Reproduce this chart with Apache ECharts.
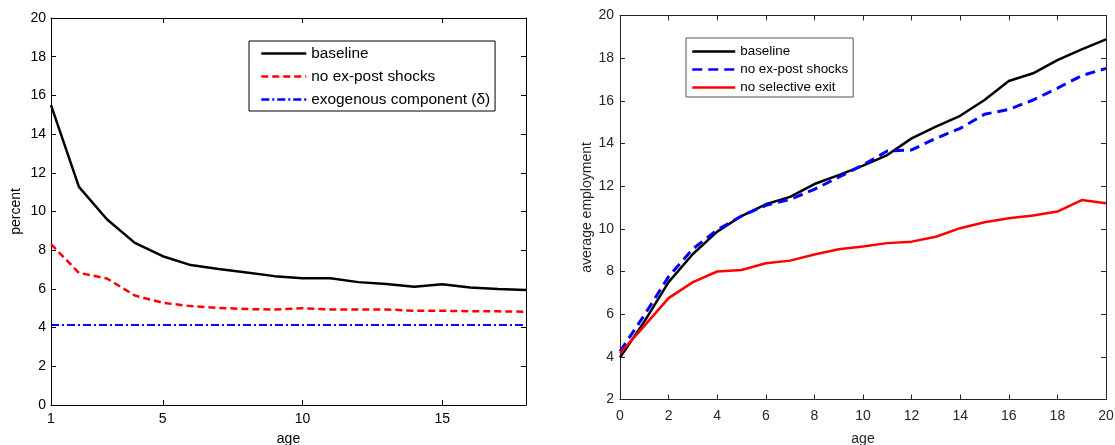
<!DOCTYPE html>
<html>
<head>
<meta charset="utf-8">
<script src="https://cdn.jsdelivr.net/npm/echarts@6/dist/echarts.min.js"></script>
<style>
html,body{margin:0;padding:0;background:#fff;}
#c{width:1115px;height:445px;}
</style>
</head>
<body>
<div id="c"></div>
<script>
// ---- Left panel data (exit rate, percent) ----
const agesLeft = [1,2,3,4,5,6,7,8,9,10,11,12,13,14,15,16,17,18];
const leftBaseline = [15.5, 11.27, 9.6, 8.38, 7.69, 7.23, 7.03, 6.85, 6.66, 6.55, 6.55, 6.35, 6.25, 6.11, 6.24, 6.07, 6.0, 5.94];
const leftNoShocks = [8.31, 6.83, 6.54, 5.66, 5.28, 5.11, 5.02, 4.96, 4.93, 5.0, 4.94, 4.94, 4.94, 4.87, 4.87, 4.85, 4.84, 4.82];
const leftExogenous = [4.14, 4.14, 4.14, 4.14, 4.14, 4.14, 4.14, 4.14, 4.14, 4.14, 4.14, 4.14, 4.14, 4.14, 4.14, 4.14, 4.14, 4.14];
const leftXTicks = [1, 5, 10, 15];
const leftNames = ['baseline', 'no ex-post shocks', 'exogenous component (\u03B4)'];

// ---- Right panel data (average employment) ----
const agesRight = [0,1,2,3,4,5,6,7,8,9,10,11,12,13,14,15,16,17,18,19,20];
const rightBaseline = [3.97, 5.65, 7.5, 8.82, 9.87, 10.6, 11.15, 11.5, 12.1, 12.52, 12.96, 13.46, 14.24, 14.79, 15.3, 16.04, 16.93, 17.29, 17.91, 18.41, 18.88];
const rightNoShocks = [4.25, 5.95, 7.76, 9.06, 9.95, 10.6, 11.1, 11.38, 11.85, 12.42, 12.99, 13.65, 13.7, 14.24, 14.71, 15.37, 15.6, 16.04, 16.59, 17.18, 17.52];
const rightNoSelective = [4.17, 5.45, 6.75, 7.5, 8.0, 8.07, 8.39, 8.51, 8.8, 9.04, 9.17, 9.33, 9.4, 9.63, 10.03, 10.31, 10.5, 10.62, 10.81, 11.35, 11.2];
const rightNames = ['baseline', 'no ex-post shocks', 'no selective exit'];

const FONT = '"Liberation Sans", Arial, sans-serif';
const pair = (xs, ys) => xs.map((x, i) => [x, ys[i]]);
// right-panel series get an internal id suffix so legend names stay unique per panel
const RID = ' ';
const rightKeys = rightNames.map(n => n + RID);

const chart = echarts.init(document.getElementById('c'), null, {renderer: 'canvas'});

const L = '#000000';
const R = '#262626';

function xAxisCfg(grid, pos, min, max, color, opts) {
  return Object.assign({
    type: 'value', gridIndex: grid, position: pos, min: min, max: max,
    axisLine: {show: true, onZero: false, lineStyle: {color: color, width: 1}},
    axisTick: {show: true, inside: true, length: 5, lineStyle: {color: color}},
    splitLine: {show: false},
    axisLabel: {show: pos === 'bottom', color: color, fontFamily: FONT, fontSize: 14, margin: 7},
  }, opts || {});
}
function yAxisCfg(grid, pos, min, max, color, opts) {
  return Object.assign({
    type: 'value', gridIndex: grid, position: pos, min: min, max: max, interval: 2,
    axisLine: {show: true, onZero: false, lineStyle: {color: color, width: 1}},
    axisTick: {show: true, inside: true, length: 5, lineStyle: {color: color}},
    splitLine: {show: false},
    axisLabel: {show: pos === 'left', color: color, fontFamily: FONT, fontSize: 14, margin: 5},
  }, opts || {});
}

const hiddenSymbol = {color: 'rgba(0,0,0,0)', borderColor: 'rgba(0,0,0,0)', borderWidth: 0, opacity: 0};

const option = {
  animation: false,
  backgroundColor: '#ffffff',
  grid: [
    {left: 51, top: 18, width: 475, height: 387, containLabel: false, outerBoundsMode: 'none'},
    {left: 620, top: 15.5, width: 486, height: 384, containLabel: false, outerBoundsMode: 'none'}
  ],
  xAxis: [
    xAxisCfg(0, 'bottom', 1, 18, L, {
      name: 'age', nameLocation: 'middle', nameGap: 27,
      nameTextStyle: {color: L, fontFamily: FONT, fontSize: 14},
      axisTick: {show: true, inside: true, length: 5, lineStyle: {color: L}, customValues: leftXTicks},
      axisLabel: {show: true, color: L, fontFamily: FONT, fontSize: 14, margin: 7, customValues: leftXTicks}
    }),
    xAxisCfg(0, 'top', 1, 18, L, {
      axisTick: {show: true, inside: true, length: 5, lineStyle: {color: L}, customValues: leftXTicks},
      axisLabel: {show: false}
    }),
    xAxisCfg(1, 'bottom', 0, 20, R, {
      interval: 2,
      name: 'age', nameLocation: 'middle', nameGap: 33,
      nameTextStyle: {color: R, fontFamily: FONT, fontSize: 14},
      axisLabel: {show: true, color: R, fontFamily: FONT, fontSize: 14, margin: 10}
    }),
    xAxisCfg(1, 'top', 0, 20, R, {interval: 2, axisLabel: {show: false}})
  ],
  yAxis: [
    yAxisCfg(0, 'left', 0, 20, L, {
      name: 'percent', nameLocation: 'middle', nameGap: 28,
      nameTextStyle: {color: L, fontFamily: FONT, fontSize: 14}
    }),
    yAxisCfg(0, 'right', 0, 20, L, {axisLabel: {show: false}}),
    yAxisCfg(1, 'left', 2, 20, R, {
      name: 'average employment', nameLocation: 'middle', nameGap: 26,
      nameTextStyle: {color: R, fontFamily: FONT, fontSize: 14},
      axisLabel: {show: true, color: R, fontFamily: FONT, fontSize: 14, margin: 6}
    }),
    yAxisCfg(1, 'right', 2, 20, R, {axisLabel: {show: false}})
  ],
  legend: [
    {
      data: leftNames, orient: 'vertical', left: 249, top: 41,
      padding: [5, 5, 4, 11], itemWidth: 45, itemHeight: 14, itemGap: 8,
      borderColor: '#000', borderWidth: 1, backgroundColor: '#fff',
      itemStyle: hiddenSymbol,
      lineStyle: {width: 2.5},
      textStyle: {color: '#000', fontFamily: FONT, fontSize: 15.4},
      selectedMode: false
    },
    {
      data: rightKeys, orient: 'vertical', left: 686, top: 38,
      padding: [7, 5, 3, 5], itemWidth: 43, itemHeight: 12, itemGap: 5,
      borderColor: '#555', borderWidth: 1, backgroundColor: '#fff',
      itemStyle: hiddenSymbol,
      lineStyle: {width: 2.5},
      formatter: name => name.trim(),
      textStyle: {color: '#000', fontFamily: FONT, fontSize: 13.4},
      selectedMode: false
    }
  ],
  series: [
    {name: leftNames[0], type: 'line', xAxisIndex: 0, yAxisIndex: 0, data: pair(agesLeft, leftBaseline),
     symbol: 'none', lineStyle: {color: '#000', width: 2.5, type: 'solid'}, itemStyle: {color: '#000'}},
    {name: leftNames[1], type: 'line', xAxisIndex: 0, yAxisIndex: 0, data: pair(agesLeft, leftNoShocks),
     symbol: 'none', lineStyle: {color: '#ff0000', width: 2.5, type: [7, 4]}, itemStyle: {color: '#ff0000'}},
    {name: leftNames[2], type: 'line', xAxisIndex: 0, yAxisIndex: 0, data: pair(agesLeft, leftExogenous),
     symbol: 'none', lineStyle: {color: '#0000ff', width: 2, type: [8, 3, 2, 3]}, itemStyle: {color: '#0000ff'}},

    {name: rightKeys[0], type: 'line', xAxisIndex: 2, yAxisIndex: 2, data: pair(agesRight, rightBaseline),
     symbol: 'none', lineStyle: {color: '#000', width: 2.5, type: 'solid'}, itemStyle: {color: '#000'}},
    {name: rightKeys[1], type: 'line', xAxisIndex: 2, yAxisIndex: 2, data: pair(agesRight, rightNoShocks),
     symbol: 'none', lineStyle: {color: '#0000ff', width: 3, type: [10, 6]}, itemStyle: {color: '#0000ff'}},
    {name: rightKeys[2], type: 'line', xAxisIndex: 2, yAxisIndex: 2, data: pair(agesRight, rightNoSelective),
     symbol: 'none', lineStyle: {color: '#ff0000', width: 2.5, type: 'solid'}, itemStyle: {color: '#ff0000'}}
  ]
};
chart.setOption(option);
</script>
</body>
</html>
